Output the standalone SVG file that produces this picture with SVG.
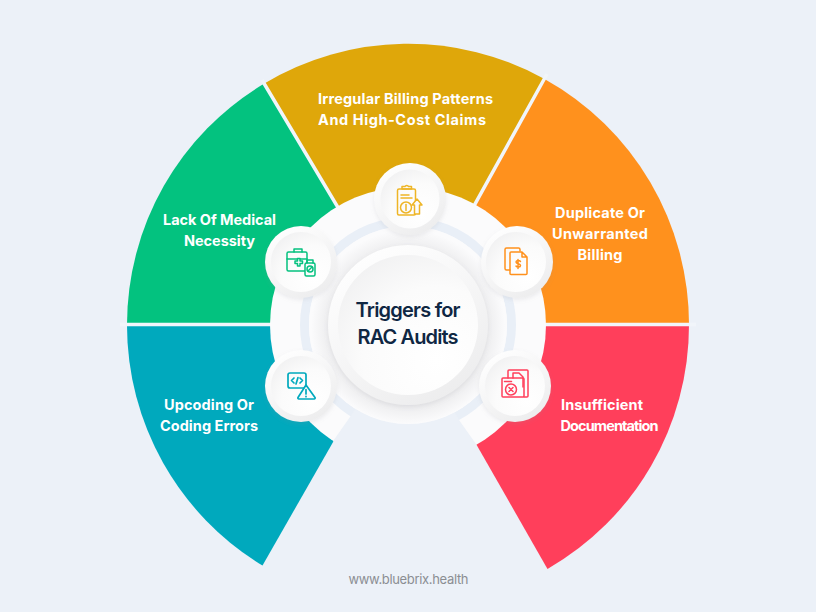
<svg xmlns="http://www.w3.org/2000/svg" width="816" height="612" viewBox="0 0 816 612">
<defs>
<radialGradient id="disc" cx="0.7" cy="0.75" r="0.95"><stop offset="0" stop-color="#ffffff"/><stop offset="0.55" stop-color="#fbfbfb"/><stop offset="1" stop-color="#eeeeef"/></radialGradient>
<linearGradient id="rim" x1="0.2" y1="0" x2="0.8" y2="1"><stop offset="0" stop-color="#ffffff"/><stop offset="1" stop-color="#ececed"/></linearGradient>
<radialGradient id="halo" cx="0.5" cy="0.5" r="0.5"><stop offset="0.76" stop-color="#d6d6d8"/><stop offset="1" stop-color="#fbfbfc"/></radialGradient>
<filter id="soft" x="-30%" y="-30%" width="160%" height="160%"><feDropShadow dx="0" dy="2" stdDeviation="2" flood-color="#8a8f99" flood-opacity="0.15"/></filter>
</defs>
<style>
.lab{font-family:"Inter","Liberation Sans",sans-serif;font-weight:700;font-size:14.5px;fill:#ffffff;text-anchor:middle}
.ttl{font-family:"Inter","Liberation Sans",sans-serif;font-weight:600;font-size:20px;fill:#0f2743;text-anchor:middle}
.url{font-family:"Inter","Liberation Sans",sans-serif;font-size:13px;fill:#8b8e93;text-anchor:middle}
.sep{stroke:#f1f5fa;stroke-width:3.5;fill:none}
.ic{fill:none;stroke-width:1.5;stroke-linejoin:round;stroke-linecap:round}
</style>
<rect width="816" height="612" fill="#ecf1f8"/>
<g id="wedges">
<path id="wedge-teal" d="M400 325L127 325A281 281 0 0 0 262.500 565.500Z" fill="#00a9bd"/>
<path id="wedge-green" d="M408 325L264.300 83.500A281 281 0 0 0 127 325Z" fill="#03c27f"/>
<path id="wedge-gold" d="M408 325L544.500 79A281 281 0 0 0 264.300 83.500Z" fill="#dfa70a"/>
<path id="wedge-orange" d="M408 325L689 325A281 281 0 0 0 544.500 79Z" fill="#ff911d"/>
<path id="wedge-red" d="M408 325L547.500 568.900A281 281 0 0 0 689 325Z" fill="#ff3f5b"/>
</g>
<g id="connectors">
<path class="sep" d="M120 324.500H696M408 325L262 80M408 325L547 74"/>
</g>
<g id="hub">
<circle cx="408" cy="325" r="138" fill="#fbfbfc"/>
<circle cx="408" cy="325" r="103.500" fill="none" stroke="#e9eff7" stroke-width="9"/>
<path d="M408 325L350 417L333.300 440.700L340 470L470 470L476 444L459 420Z" fill="#ecf1f8"/>
<circle cx="408" cy="325" r="99" fill="#fbfbfc"/>
<circle cx="408" cy="327" r="97" fill="url(#halo)" opacity="0.5"/>
</g>
<g id="center">
<circle cx="408" cy="325" r="80" fill="url(#rim)" filter="url(#soft)"/>
<circle cx="408" cy="325" r="70" fill="url(#disc)"/>
<text class="ttl" x="408" y="317" textLength="105" lengthAdjust="spacing">Triggers for</text>
<text class="ttl" x="408" y="344" textLength="101" lengthAdjust="spacing">RAC Audits</text>
</g>
<g id="node-lack">
<circle cx="301" cy="262" r="36" fill="url(#rim)" filter="url(#soft)"/>
<circle cx="301" cy="262" r="30" fill="url(#disc)"/>
<g class="ic" stroke="#05c17f">
<rect x="287" y="252" width="20" height="19" rx="1.500"/><path d="M294 252v-3h8v3M287 259h20"/>
<path d="M295 261h2.500v-2.500h2.500v2.500h2.500v2.500h-2.500v2.500h-2.500v-2.500h-2.500z" fill="#fbfbfc"/>
<rect x="305" y="263" width="10" height="13" rx="1.500" fill="#fbfbfc"/><path d="M307 263v-3h6v3"/><circle cx="310" cy="269" r="3"/><path d="M308 271l4-4"/>
</g>
<text class="lab" x="219.500" y="225" textLength="113" lengthAdjust="spacing">Lack Of Medical</text>
<text class="lab" x="219.500" y="246" textLength="71" lengthAdjust="spacing">Necessity</text>
</g>
<g id="node-irregular">
<circle cx="410" cy="199" r="36" fill="url(#rim)" filter="url(#soft)"/>
<circle cx="410" cy="199" r="29.500" fill="url(#disc)"/>
<g class="ic" stroke="#eeb526">
<rect x="397.500" y="189" width="18" height="26" rx="1.500"/><path d="M402 189v-2.500h3c.5-1.500 3-1.500 3.500 0h3v2.500zM401 195h8M401 198h11"/>
<circle cx="406" cy="207.500" r="5.500" fill="#fbfbfc"/><path d="M406 204.500v6"/>
<path d="M414.500 214v-9h-2.500l5-6 5 6h-2.500v9z" fill="#fbfbfc"/>
</g>
<text class="lab" x="405.500" y="104" textLength="175" lengthAdjust="spacing">Irregular Billing Patterns</text>
<text class="lab" x="402" y="125" textLength="168" lengthAdjust="spacing">And High-Cost Claims</text>
</g>
<g id="node-duplicate">
<circle cx="517" cy="262" r="36" fill="url(#rim)" filter="url(#soft)"/>
<circle cx="516" cy="262" r="30" fill="url(#disc)"/>
<g class="ic" stroke="#ff911d">
<path d="M510 270h-3.500a1.500 1.500 0 0 1-1.500-1.500v-19a1.500 1.500 0 0 1 1.500-1.500h12a1.500 1.500 0 0 1 1.500 1.500v1.500"/>
<path d="M511 252h11l5 5v16.500a1 1 0 0 1-1 1h-15a1 1 0 0 1-1-1v-20.500a1 1 0 0 1 1-1zM522 252v5h5"/>
<path d="M520.500 261.500c-1-1.500-4.500-1.500-4.500.5s4.500 1.500 4.500 3.500-3.500 2-4.500.5M518 259.500v9"/>
</g>
<text class="lab" x="600" y="218" textLength="90" lengthAdjust="spacing">Duplicate Or</text>
<text class="lab" x="600" y="239" textLength="96" lengthAdjust="spacing">Unwarranted</text>
<text class="lab" x="600" y="260" textLength="45" lengthAdjust="spacing">Billing</text>
</g>
<g id="node-insufficient">
<circle cx="515" cy="386" r="36" fill="url(#rim)" filter="url(#soft)"/>
<circle cx="515" cy="386" r="30" fill="url(#disc)"/>
<g class="ic" stroke="#ff3f5b">
<path d="M508 378v-7a1 1 0 0 1 1-1h18a1 1 0 0 1 1 1v25a1 1 0 0 1-1 1h-3"/>
<path d="M503 378h20a1 1 0 0 1 1 1v17a1 1 0 0 1-1 1h-20a1 1 0 0 1-1-1v-17a1 1 0 0 1 1-1z"/>
<path d="M513 378v-5h6l4 4v10M504.500 381.500h7"/>
<circle cx="511" cy="389.500" r="5.500"/><path d="M509 387.500l4 4M513 387.500l-4 4"/>
</g>
<text class="lab" x="602" y="410" textLength="82" lengthAdjust="spacing">Insufficient</text>
<text class="lab" x="609.500" y="431" textLength="98" lengthAdjust="spacing">Documentation</text>
</g>
<g id="node-upcoding">
<circle cx="301" cy="386" r="36" fill="url(#rim)" filter="url(#soft)"/>
<circle cx="301" cy="386" r="30" fill="url(#disc)"/>
<g class="ic" stroke="#00a9bd" style="stroke-width:1.700">
<rect x="288" y="373" width="18" height="15" rx="2"/>
<path d="M294 378l-2.500 2.500 2.500 2.500M300 378l2.500 2.500-2.500 2.500M298 377.500l-2 6.500"/>
<path d="M306 385l-8 12.500a1 1 0 0 0 1 1.500h15a1 1 0 0 0 1-1.500z" fill="#fbfbfc"/>
<path d="M306 389.500v4.500M306 396.300v.4"/>
</g>
<text class="lab" x="209" y="410" textLength="90" lengthAdjust="spacing">Upcoding Or</text>
<text class="lab" x="209" y="431" textLength="98" lengthAdjust="spacing">Coding Errors</text>
</g>
<text id="url" class="url" x="408.500" y="584" textLength="120" lengthAdjust="spacing">www.bluebrix.health</text>
</svg>
